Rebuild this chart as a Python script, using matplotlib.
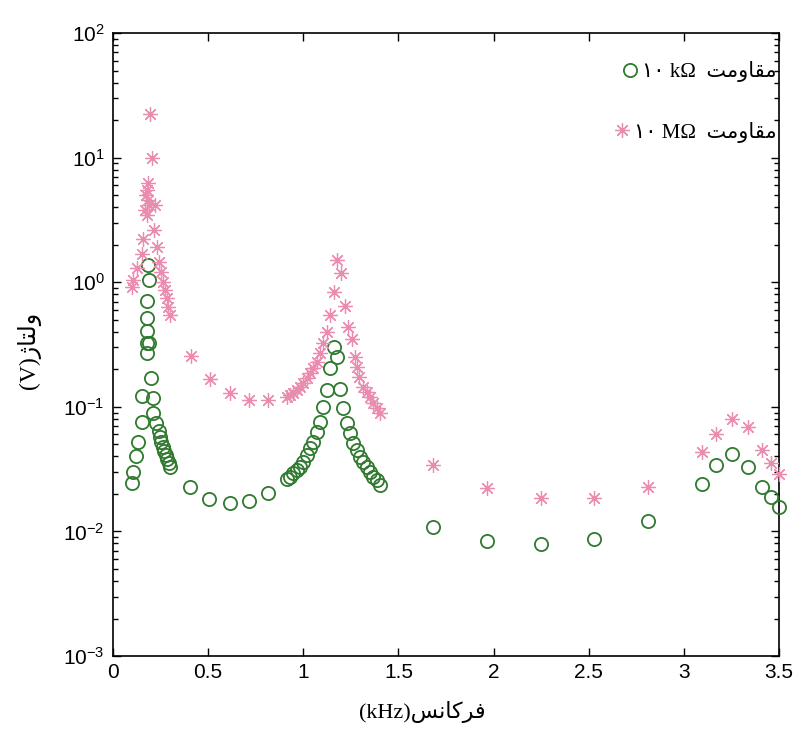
import math
import matplotlib
matplotlib.use("Agg")
import matplotlib.pyplot as plt
from matplotlib.ticker import LogLocator, FixedLocator, NullFormatter, FuncFormatter

# ---------------- data ----------------
freq_10k = [0.100, 0.107, 0.121, 0.133, 0.152, 0.154, 0.177, 0.177, 0.179, 0.177,
            0.177, 0.188, 0.183, 0.188, 0.198, 0.210, 0.210, 0.226, 0.240, 0.247,
            0.254, 0.261, 0.268, 0.279, 0.285, 0.293, 0.300,
            0.405, 0.506, 0.615, 0.716, 0.816,
            0.913, 0.930, 0.947, 0.965, 0.983, 1.000, 1.018, 1.035, 1.053, 1.074,
            1.088, 1.102, 1.123, 1.140, 1.161, 1.179, 1.193, 1.207, 1.231, 1.245,
            1.263, 1.280, 1.298, 1.315, 1.333, 1.350, 1.368, 1.386, 1.403,
            1.683, 1.967, 2.249, 2.529, 2.810, 3.093, 3.169, 3.253, 3.335, 3.409,
            3.458, 3.500]
volt_10k = [0.0246, 0.0301, 0.0403, 0.0525, 0.0755, 0.123, 0.272, 0.325, 0.406, 0.516,
            0.706, 1.04, 1.37, 0.325, 0.170, 0.118, 0.0897, 0.0745, 0.064, 0.0575,
            0.0525, 0.0479, 0.0445, 0.0410, 0.0379, 0.0352, 0.0330,
            0.0229, 0.0182, 0.0170, 0.0175, 0.0202,
            0.0262, 0.0275, 0.0292, 0.0311, 0.0330, 0.0362, 0.0410, 0.0465, 0.0525, 0.0631,
            0.0759, 0.100, 0.136, 0.206, 0.300, 0.249, 0.138, 0.0973, 0.0745, 0.0612,
            0.0509, 0.0450, 0.0398, 0.0362, 0.0330, 0.0301, 0.0275, 0.0259, 0.0236,
            0.0109, 0.00838, 0.00787, 0.00869, 0.0121, 0.0240, 0.0341, 0.0418, 0.0330, 0.0229,
            0.0188, 0.0156]

freq_10M = [0.098, 0.107, 0.128, 0.151, 0.159, 0.177, 0.168, 0.191, 0.182, 0.173,
            0.177, 0.186, 0.194, 0.203, 0.221, 0.217, 0.230, 0.243, 0.252, 0.264,
            0.273, 0.282, 0.291, 0.300,
            0.408, 0.510, 0.615, 0.716, 0.816,
            0.913, 0.930, 0.947, 0.965, 0.983, 1.000, 1.018, 1.035, 1.053, 1.070,
            1.088, 1.102, 1.123, 1.140, 1.161, 1.179, 1.197, 1.219, 1.236, 1.254,
            1.272, 1.284, 1.294, 1.315, 1.333, 1.350, 1.368, 1.386, 1.403,
            1.683, 1.967, 2.249, 2.529, 2.810, 3.093, 3.169, 3.253, 3.335, 3.409,
            3.458, 3.500]
volt_10M = [0.92, 1.04, 1.29, 1.68, 2.22, 3.46, 3.80, 4.17, 4.57, 5.0,
            5.5, 6.2, 22.4, 9.87, 4.17, 2.62, 1.93, 1.46, 1.21, 1.01,
            0.865, 0.743, 0.636, 0.546,
            0.256, 0.167, 0.128, 0.113, 0.113,
            0.120, 0.124, 0.130, 0.136, 0.145, 0.156, 0.169, 0.186, 0.204, 0.230,
            0.269, 0.324, 0.401, 0.546, 0.839, 1.51, 1.19, 0.644, 0.435, 0.348,
            0.252, 0.207, 0.175, 0.145, 0.132, 0.120, 0.107, 0.0973, 0.0887,
            0.0341, 0.0222, 0.0184, 0.0184, 0.0226, 0.0436, 0.0605, 0.0794, 0.0685, 0.045,
            0.0356, 0.0289]

x_ticks = [0, 0.5, 1, 1.5, 2, 2.5, 3, 3.5]
x_tick_labels = ["0", "0.5", "1", "1.5", "2", "2.5", "3", "3.5"]

word_resistance = "مقاومت"
word_frequency = "فرکانس"
word_voltage = "ولتاژ"
label_10k = "۱۰ kΩ"
label_10M = "۱۰ MΩ"

# ---------------- simple Persian shaping (matplotlib has no bidi/shaping) ----------------
FORMS = {  # isolated, final, initial, medial
    'م': ('\uFEE1', '\uFEE2', '\uFEE3', '\uFEE4'),
    'ق': ('\uFED5', '\uFED6', '\uFED7', '\uFED8'),
    'ت': ('\uFE95', '\uFE96', '\uFE97', '\uFE98'),
    'ف': ('\uFED1', '\uFED2', '\uFED3', '\uFED4'),
    'ک': ('\uFB8E', '\uFB8F', '\uFB90', '\uFB91'),
    'ن': ('\uFEE5', '\uFEE6', '\uFEE7', '\uFEE8'),
    'س': ('\uFEB1', '\uFEB2', '\uFEB3', '\uFEB4'),
    'ل': ('\uFEDD', '\uFEDE', '\uFEDF', '\uFEE0'),
    'ا': ('\uFE8D', '\uFE8E', None, None),
    'و': ('\uFEED', '\uFEEE', None, None),
    'ر': ('\uFEAD', '\uFEAE', None, None),
    'ژ': ('\uFB8A', '\uFB8B', None, None),
}


def dual(c):
    return c in FORMS and FORMS[c][2] is not None


def shape(word):
    out = []
    for i, c in enumerate(word):
        if c not in FORMS:
            out.append(c)
            continue
        jp = i > 0 and dual(word[i - 1])
        jn = dual(c) and i + 1 < len(word) and word[i + 1] in FORMS
        f = FORMS[c]
        if jp and jn:
            out.append(f[3])
        elif jp:
            out.append(f[1])
        elif jn:
            out.append(f[2])
        else:
            out.append(f[0])
    return "".join(reversed(out))


# ---------------- figure ----------------
plt.rcParams['font.family'] = ['Liberation Sans', 'DejaVu Sans']
plt.rcParams['mathtext.fontset'] = 'custom'
plt.rcParams['mathtext.rm'] = 'Liberation Sans'
serif = ['Liberation Serif', 'DejaVu Sans']

fig = plt.figure(figsize=(8.03, 7.5), dpi=100)
ax = fig.add_axes([0.1407, 0.1253, 0.8294, 0.8307])

green = '#2f7a2f'
pink = '#ea8cb0'

ax.plot(freq_10k, volt_10k, linestyle='none', marker='o', markersize=9.5,
        markerfacecolor='none', markeredgecolor=green, markeredgewidth=1.3,
        clip_on=False, label=label_10k + "  " + shape(word_resistance), zorder=3)
ax.plot(freq_10M, volt_10M, linestyle='none', marker=(8, 2, 0), markersize=10.5,
        markeredgecolor=pink, markerfacecolor=pink, markeredgewidth=0.9,
        clip_on=False, label=label_10M + "  " + shape(word_resistance), zorder=3)

ax.set_yscale('log')
ax.set_ylim(1e-3, 1e2)
ax.set_xlim(0, 3.5)
ax.xaxis.set_major_locator(FixedLocator(x_ticks))
ax.set_xticklabels(x_tick_labels, fontsize=15)
ax.yaxis.set_major_locator(LogLocator(base=10, numticks=10))
ax.yaxis.set_major_formatter(FuncFormatter(
    lambda v, p: r"$\mathregular{10^{%d}}$" % round(math.log10(v))))
ax.yaxis.set_minor_locator(LogLocator(base=10, subs=range(2, 10), numticks=20))
ax.yaxis.set_minor_formatter(NullFormatter())
ax.tick_params(axis='y', labelsize=15)

ax.tick_params(which='both', direction='in', top=True, right=True, width=1.0)
ax.tick_params(which='major', length=6)
ax.tick_params(which='minor', length=3.5)
ax.tick_params(axis='x', pad=5)
ax.tick_params(axis='y', pad=6)
for s in ax.spines.values():
    s.set_linewidth(1.2)

ax.set_xlabel("(kHz)" + shape(word_frequency), fontsize=16, family=serif)
ax.xaxis.set_label_coords(0.465, -0.072)
ax.set_ylabel("(V)" + shape(word_voltage), fontsize=17, family=serif)
ax.yaxis.set_label_coords(-0.108, 0.49)

leg = ax.legend(loc='upper right', bbox_to_anchor=(0.997, 0.955), frameon=False,
                prop={'family': serif, 'size': 15}, labelspacing=1.9,
                handletextpad=0.0, handlelength=1.2, borderaxespad=0.0, borderpad=0.0)
# right-align the legend rows (as in the reference, where both texts end at the same x)
try:
    for col in leg._legend_handle_box.get_children():
        col.align = 'right'
except Exception:
    pass

fig.savefig("out.png", dpi=100, facecolor='white')
